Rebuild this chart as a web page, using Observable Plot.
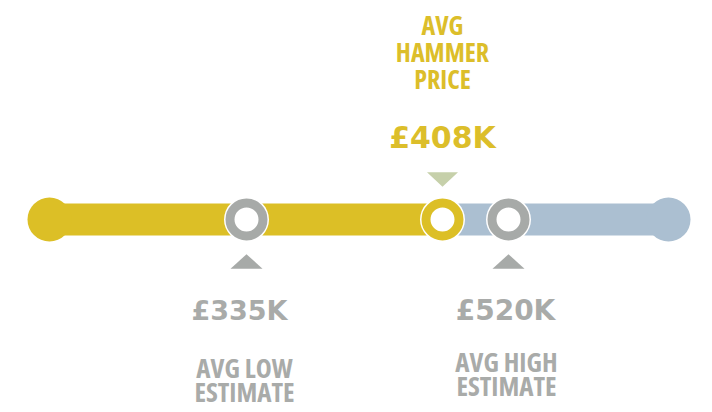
<!DOCTYPE html>
<html><head><meta charset="utf-8">
<script src="https://cdn.jsdelivr.net/npm/d3@7"></script>
<script src="https://cdn.jsdelivr.net/npm/@observablehq/plot@0.6"></script>
<style>
html,body{margin:0;padding:0;background:#fff;}
g[font-family*="Open Sans"] { font-stretch: 75%; }
</style></head><body><div id="chart"></div>
<script>
// ---- data ----
const markerNames = ["AVG LOW\nESTIMATE", "AVG\nHAMMER\nPRICE", "AVG HIGH\nESTIMATE"];
const markerValues = [335, 408, 520];            // £K
const valueLabels = ["£335K", "£408K", "£520K"];
const trackEnds = [260, 790];                    // ends of the track (£K, illustrative)
const trackStops = [260, 335, 408, 520, 790];    // piecewise track domain

// ---- styles ----
const GOLD = "#dcbf26", BLUE = "#abbfd1", GRAY = "#a7aaa8", SAGE = "#c6d0aa";
const GOLD_TXT = "#dcbe2a", GRAY_TXT = "#a9aba9";
const NARROW = "'Open Sans', sans-serif";
const WIDE = "'DejaVu Sans', Verdana, sans-serif";

const markers = markerValues.map((v, i) => ({value: v, name: markerNames[i], label: valueLabels[i], idx: i}));
const segments = [
  {from: trackEnds[0], to: markerValues[1], color: GOLD},
  {from: markerValues[1], to: trackEnds[1], color: BLUE}
];
const ends = [{value: trackEnds[0], color: GOLD}, {value: trackEnds[1], color: BLUE}];

const triUp = {draw(ctx, size) { const r = Math.sqrt(size / Math.PI), h = r * 0.9;
  ctx.moveTo(0, -h / 2); ctx.lineTo(r, h / 2); ctx.lineTo(-r, h / 2); ctx.closePath(); }};
const triDown = {draw(ctx, size) { const r = Math.sqrt(size / Math.PI), h = r * 0.95;
  ctx.moveTo(0, h / 2); ctx.lineTo(r, -h / 2); ctx.lineTo(-r, -h / 2); ctx.closePath(); }};

const zero = () => 0;

const chart = Plot.plot({
  width: 712, height: 412,
  marginTop: 26, marginBottom: 0, marginLeft: 0, marginRight: 0,
  x: {type: "linear", domain: trackStops, range: [49, 246, 442, 508, 668], axis: null},
  y: {type: "linear", domain: [-1, 1], axis: null},
  color: {type: "identity"},
  marks: [
    Plot.ruleY(segments, {y: zero, x1: "from", x2: "to", stroke: "color", strokeWidth: 32}),
    Plot.dot(ends, {x: "value", y: zero, r: 22, fill: "color"}),
    Plot.dot(markers, {x: "value", y: zero, r: 22.5, fill: "white"}),
    Plot.dot(markers, {x: "value", y: zero, r: 16.5, fill: "white", strokeWidth: 9,
      stroke: d => d.idx === 1 ? GOLD : GRAY}),
    // pointers
    Plot.dot(markers, {filter: d => d.idx !== 1, x: "value", y: zero, dy: 42, r: 16, symbol: triUp, fill: GRAY}),
    Plot.dot(markers, {filter: d => d.idx === 1, x: "value", y: zero, dy: -40, r: 15.5, symbol: triDown, fill: SAGE}),
    // value labels
    Plot.text(markers, {filter: d => d.idx === 1, x: "value", y: zero, text: "label", dy: -72,
      lineAnchor: "bottom", fontSize: 30, fontWeight: "bold", fontFamily: WIDE, fill: GOLD_TXT}),
    Plot.text(markers, {filter: d => d.idx === 0, x: "value", y: zero, text: "label", dy: 100, dx: -7,
      lineAnchor: "bottom", fontSize: 27, fontWeight: "bold", fontFamily: WIDE, fill: GRAY_TXT}),
    Plot.text(markers, {filter: d => d.idx === 2, x: "value", y: zero, text: "label", dy: 100, dx: -3,
      lineAnchor: "bottom", fontSize: 28, fontWeight: "bold", fontFamily: WIDE, fill: GRAY_TXT}),
    // names
    Plot.text(markers, {filter: d => d.idx === 1, x: "value", y: zero, text: "name", dy: -131,
      lineAnchor: "bottom", lineHeight: 27 / 26, fontSize: 26, fontWeight: "bold", fontFamily: NARROW, fill: GOLD_TXT}),
    Plot.text(markers, {filter: d => d.idx === 0, x: "value", y: zero, text: "name", dy: 182, dx: -2,
      lineAnchor: "bottom", lineHeight: 24 / 27, fontSize: 27, fontWeight: "bold", fontFamily: NARROW, fill: GRAY_TXT}),
    Plot.text(markers, {filter: d => d.idx === 2, x: "value", y: zero, text: "name", dy: 176, dx: -2,
      lineAnchor: "bottom", lineHeight: 24 / 27, fontSize: 27, fontWeight: "bold", fontFamily: NARROW, fill: GRAY_TXT})
  ]
});
document.getElementById("chart").appendChild(chart);
</script>
</body></html>
